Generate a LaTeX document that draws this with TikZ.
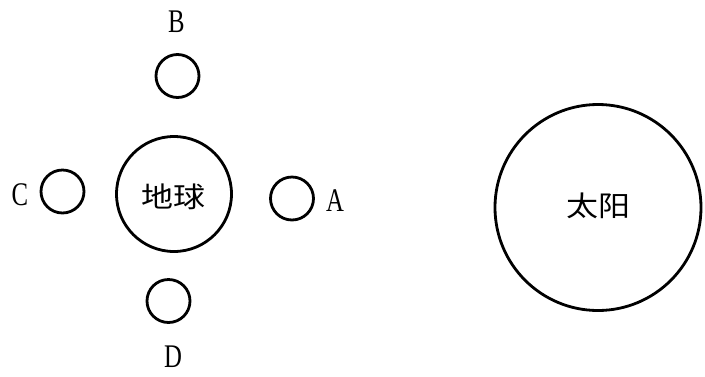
\documentclass[tikz,border=0pt]{standalone}
\usepackage{fontspec}
\setmainfont{Liberation Serif}
\newfontfamily\cjk{Noto Sans CJK SC}
\begin{document}
\begin{tikzpicture}[x=1pt,y=-1pt,
  body/.style={circle,draw,line width=2.8pt,inner sep=0pt},
  moon/.style={body,minimum size=43pt},
  cjklabel/.style={font=\cjk\fontsize{32pt}{32pt}\selectfont,yscale=0.88,inner sep=0pt},
  letter/.style={font=\fontsize{33pt}{33pt}\selectfont,xscale=0.75,inner sep=0pt}]
\useasboundingbox (0,0) rectangle (705,376);
\node[body,minimum size=115pt] (earth) at (174,194) {};
\node[cjklabel] (earthtext) at (173,197) {地球};
\node[body,minimum size=206pt] (sun) at (598,207.5) {};
\node[cjklabel] (suntext) at (598,206) {太阳};
\node[moon] (mB) at (177.5,76) {};
\node[moon] (mC) at (62.5,191.5) {};
\node[moon] (mA) at (292,198.5) {};
\node[moon] (mD) at (168.5,301) {};
\node[letter] (lB) at (176.5,22) {B};
\node[letter] (lC) at (20,195) {C};
\node[letter] (lA) at (335,201) {A};
\node[letter] (lD) at (173,357) {D};
\end{tikzpicture}
\end{document}
